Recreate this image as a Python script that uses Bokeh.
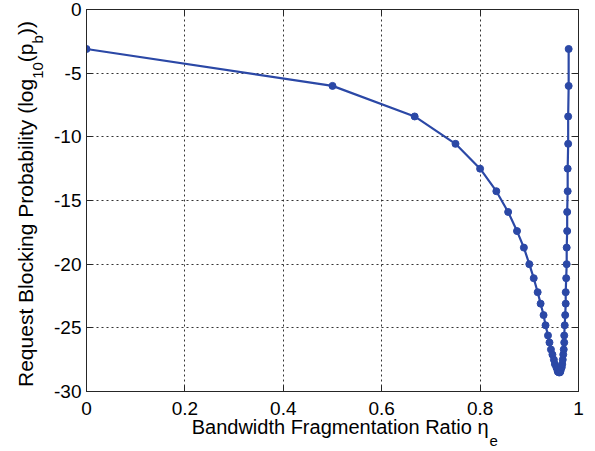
from bokeh.plotting import figure
from bokeh.models import Range1d, FixedTicker, LinearAxis, Div
from bokeh.layouts import row
from bokeh.embed import file_html
from bokeh.resources import INLINE

# ---- data ----
frag_ratio = [0.0, 0.5, 0.667, 0.75, 0.8, 0.833, 0.857, 0.875, 0.889, 0.9,
              0.909, 0.917, 0.923, 0.929, 0.933, 0.938, 0.941, 0.944, 0.947, 0.95,
              0.952, 0.955, 0.957, 0.958, 0.96,
              0.962, 0.963, 0.964, 0.966, 0.967, 0.968, 0.969, 0.97, 0.971, 0.971,
              0.972, 0.973, 0.974, 0.974, 0.975, 0.976, 0.976, 0.977, 0.977, 0.978,
              0.978, 0.979, 0.979, 0.98, 0.98]
log_pb = [-3.1, -6.0, -8.4, -10.55, -12.5, -14.27, -15.9, -17.4, -18.7, -20.0,
          -21.1, -22.2, -23.1, -24.0, -24.8, -25.6, -26.15, -26.7, -27.1, -27.5,
          -27.85, -28.1, -28.3, -28.45, -28.5,
          -28.5, -28.45, -28.3, -28.1, -27.85, -27.5, -27.1, -26.7, -26.15, -25.6,
          -24.8, -24.0, -23.1, -22.2, -21.1, -20.0, -18.7, -17.4, -15.9, -14.27,
          -12.5, -10.55, -8.4, -6.0, -3.1]

x_ticks = [0, 0.2, 0.4, 0.6, 0.8, 1]
x_tick_labels = ["0", "0.2", "0.4", "0.6", "0.8", "1"]
y_ticks = [0, -5, -10, -15, -20, -25, -30]
y_tick_labels = ["0", "-5", "-10", "-15", "-20", "-25", "-30"]

x_label_main = "Bandwidth Fragmentation Ratio \u03b7"
x_label_sub = "e"
y_label_parts = [("Request Blocking Probability (log", False), ("10", True),
                 ("(p", False), ("b", True), ("))", False)]

FONT = "Liberation Sans"
LINE_COLOR = "#2b48a6"
AX_COLOR = "#262626"
LABEL_W = 46

p = figure(width=595 - LABEL_W, height=451, output_backend="svg",
           toolbar_location=None,
           x_range=Range1d(0, 1), y_range=Range1d(-30, 0),
           min_border_left=40, min_border_right=17, min_border_top=9,
           min_border_bottom=60)
p.background_fill_color = "white"
p.border_fill_color = None
p.outline_line_color = AX_COLOR
p.outline_line_width = 1


def style_axis(ax, ticks, labels, show_labels, standoff):
    ax.ticker = FixedTicker(ticks=ticks)
    ax.major_tick_in = 6
    ax.major_tick_out = 0
    ax.major_tick_line_color = AX_COLOR
    ax.minor_tick_line_color = None
    ax.axis_line_color = AX_COLOR
    ax.major_label_standoff = standoff
    if show_labels:
        ax.major_label_overrides = {t: s for t, s in zip(ticks, labels)}
        ax.major_label_text_font = FONT
        ax.major_label_text_font_size = "19px"
        ax.major_label_text_color = "black"
    else:
        ax.major_label_text_font_size = "0px"
        ax.major_label_text_alpha = 0


style_axis(p.xaxis[0], x_ticks, x_tick_labels, True, 10)
style_axis(p.yaxis[0], y_ticks, y_tick_labels, True, 5)

top_ax = LinearAxis()
style_axis(top_ax, x_ticks, x_tick_labels, False, 0)
p.add_layout(top_ax, "above")
right_ax = LinearAxis()
style_axis(right_ax, y_ticks, y_tick_labels, False, 0)
p.add_layout(right_ax, "right")

for g, t in ((p.xgrid[0], x_ticks), (p.ygrid[0], y_ticks)):
    g.ticker = FixedTicker(ticks=t)
    g.grid_line_color = "#333333"
    g.grid_line_dash = "2 3"
    g.grid_line_width = 1

p.line(frag_ratio, log_pb, line_color=LINE_COLOR, line_width=2.2)
p.scatter(frag_ratio, log_pb, size=7, fill_color=LINE_COLOR,
          line_color=LINE_COLOR)

# ---- axis labels as real HTML text (with true subscripts) ----
SUB_Y = "font-size:15px;position:relative;top:10px;"
y_html = "".join(
    f'<span style="{SUB_Y}">{t}</span>' if is_sub else t
    for t, is_sub in y_label_parts)
y_style = ("position:absolute;left:14.5px;top:387px;transform-origin:0 0;"
           "transform:rotate(-90deg);white-space:nowrap;"
           f"font-family:'{FONT}';font-size:21px;line-height:1;color:black;")
x_style = ("position:absolute;left:191.7px;top:417.4px;white-space:nowrap;"
           f"font-family:'{FONT}';font-size:20px;line-height:1;color:black;")
x_html = (f'{x_label_main}<span style="font-size:15px;position:relative;'
          f'top:12px;margin-left:1px;">{x_label_sub}</span>')

label_div = Div(
    text=(f'<div style="{y_style}">{y_html}</div>'
          f'<div style="{x_style}">{x_html}</div>'),
    width=LABEL_W, height=451, margin=(0, 0, 0, 0),
    styles={"overflow": "visible", "z-index": "5"})

layout = row(label_div, p, spacing=0, margin=(0, 0, 0, 0))

open("out.html", "w").write(file_html(layout, INLINE))
